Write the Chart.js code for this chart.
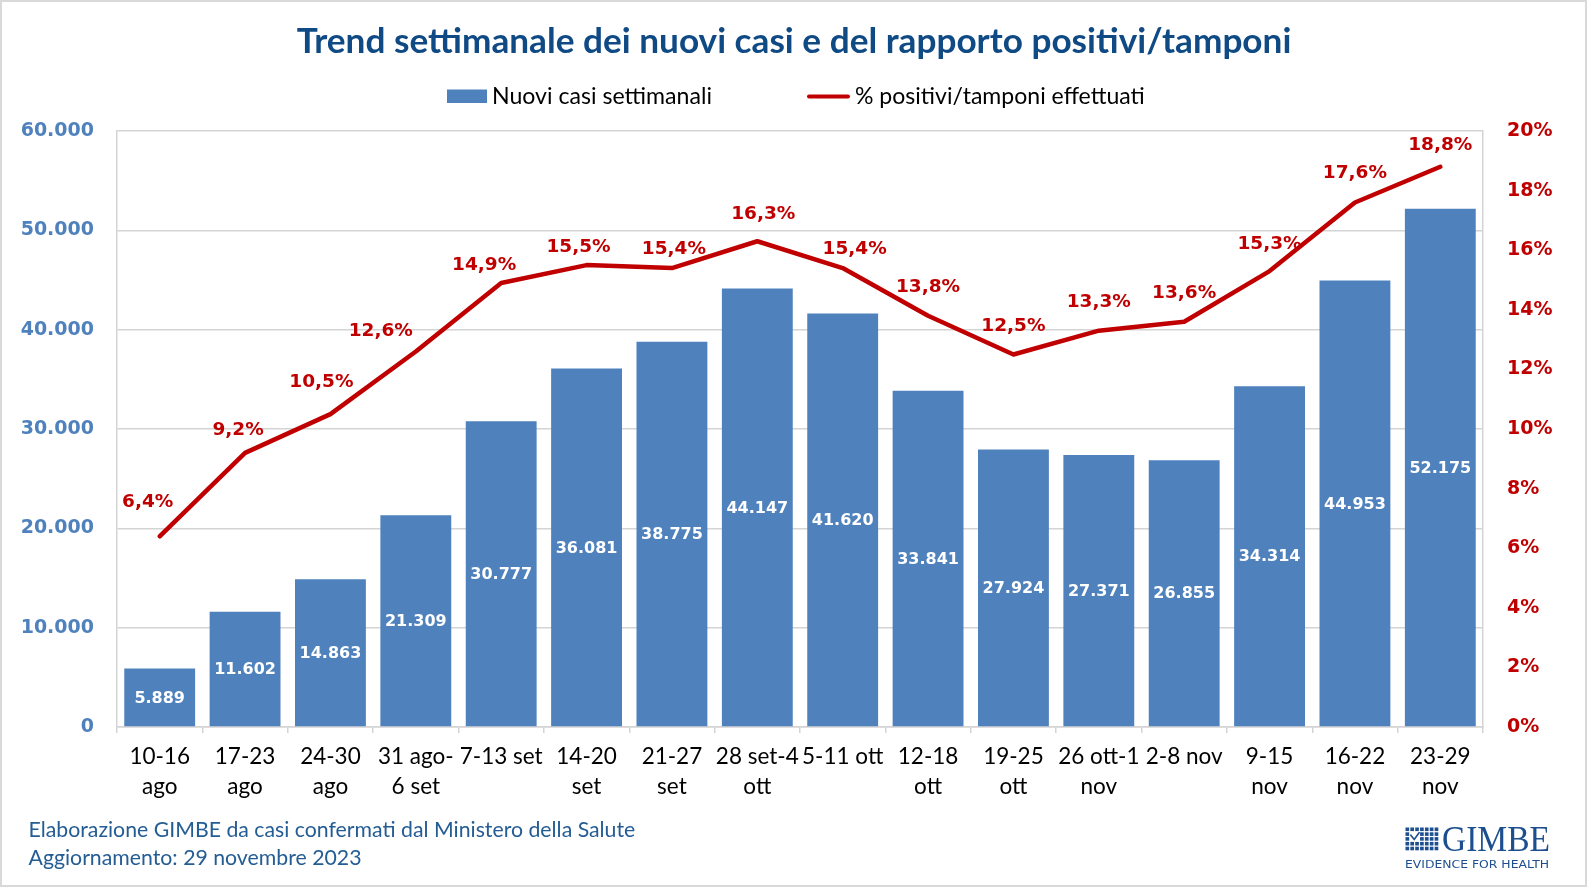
<!DOCTYPE html>
<html><head><meta charset="utf-8">
<script src="https://cdn.jsdelivr.net/npm/chart.js@4.4.0/dist/chart.umd.min.js"></script>
<style>html,body{margin:0;padding:0;background:#fff;} #wrap{width:1588px;height:888px;position:relative;} canvas{display:block;}</style>
</head><body><div id="wrap"><canvas id="c" width="1588" height="888"></canvas></div>
<script>
// ---------------- DATA ----------------
const categories = [["10-16","ago"],["17-23","ago"],["24-30","ago"],["31 ago-","6 set"],"7-13 set",["14-20","set"],["21-27","set"],["28 set-4","ott"],"5-11 ott",["12-18","ott"],["19-25","ott"],["26 ott-1","nov"],"2-8 nov",["9-15","nov"],["16-22","nov"],["23-29","nov"]];
const newCases = [5889,11602,14863,21309,30777,36081,38775,44147,41620,33841,27924,27371,26855,34314,44953,52175];
const positivityPct = [6.4,9.2,10.5,12.6,14.9,15.5,15.4,16.3,15.4,13.8,12.5,13.3,13.6,15.3,17.6,18.8];
const leftAxisRange = [0, 60000, 10000];
const rightAxisRange = [0, 20, 2];
const seriesNames = ["Nuovi casi settimanali", "% positivi/tamponi effettuati"];
const titleText = "Trend settimanale dei nuovi casi e del rapporto positivi/tamponi";
const footerLines = ["Elaborazione GIMBE da casi confermati dal Ministero della Salute", "Aggiornamento: 29 novembre 2023"];
const logoText = ["GIMBE", "EVIDENCE FOR HEALTH"];

// ---------------- STYLE ----------------
const BLUE = '#4F81BD', RED = '#C00000', GRID = '#D4D4D4';
const CAL = "Lato, 'Open Sans', sans-serif";
const VER = "'DejaVu Sans', Verdana, sans-serif";
// per-label nudges of the percentage labels (dx, dy relative to point)
const LABEL_NUDGE = [[-12,-34],[-7,-23],[-9,-32],[-35,-20],[-17,-18],[-8,-18],[2,-19],[6,-27],[12,-19],[0,-29],[0,-28],[0,-28],[0,-29],[0,-27],[0,-29],[0,-22]];

const mctx = document.createElement('canvas').getContext('2d');
function fitSize(text, weight, family, target) {
  mctx.font = `${weight} 100px ${family}`;
  return 100 * target / mctx.measureText(text).width;
}
const fmtThousands = n => String(Math.round(n)).replace(/\B(?=(\d{3})+(?!\d))/g, '.');
const fmtPct = v => v.toFixed(1).replace('.', ',') + '%';

const xFontSize = fitSize("7-13 set", 'normal', CAL, 83);
const titleSize = fitSize(titleText, 'bold', CAL, 995);
const leg1Size = fitSize(seriesNames[0], 'normal', CAL, 220);
const leg2Size = fitSize(seriesNames[1], 'normal', CAL, 290);
const footSize = fitSize(footerLines[0], 'normal', CAL, 607);

const decor = {
  id: 'decor',
  afterDatasetsDraw(chart) {
    const ctx = chart.ctx;
    ctx.save();
    // bar labels
    const bm = chart.getDatasetMeta(0);
    ctx.font = `bold 16px ${VER}`;
    ctx.fillStyle = '#FFFFFF';
    ctx.textAlign = 'center';
    ctx.textBaseline = 'middle';
    bm.data.forEach((el, i) => {
      const p = el.getProps(['x', 'y', 'base'], true);
      ctx.fillText(fmtThousands(newCases[i]), p.x, (p.y + p.base) / 2 + 1);
    });
    // line labels
    const lm = chart.getDatasetMeta(1);
    ctx.font = `bold 18.5px ${VER}`;
    ctx.fillStyle = RED;
    lm.data.forEach((el, i) => {
      const p = el.getProps(['x', 'y'], true);
      const n = LABEL_NUDGE[i] || [0, -28];
      ctx.fillText(fmtPct(positivityPct[i]), p.x + n[0], p.y + n[1]);
    });
    ctx.restore();
  },
  afterDraw(chart) {
    const ctx = chart.ctx;
    ctx.save();
    // title
    ctx.fillStyle = '#0F4A84';
    ctx.font = `bold ${titleSize}px ${CAL}`;
    ctx.textAlign = 'center';
    ctx.textBaseline = 'alphabetic';
    ctx.fillText(titleText, 794, 52.5);
    // legend
    ctx.fillStyle = BLUE;
    ctx.fillRect(447, 89.5, 40, 13.5);
    ctx.fillStyle = '#000';
    ctx.textAlign = 'left';
    ctx.textBaseline = 'middle';
    ctx.font = `normal ${leg1Size}px ${CAL}`;
    ctx.fillText(seriesNames[0], 492, 97);
    ctx.strokeStyle = RED;
    ctx.lineWidth = 4;
    ctx.lineCap = 'round';
    ctx.beginPath(); ctx.moveTo(809, 96.5); ctx.lineTo(848, 96.5); ctx.stroke();
    ctx.font = `normal ${leg2Size}px ${CAL}`;
    ctx.fillText(seriesNames[1], 855, 97);
    // footer
    ctx.fillStyle = '#245C94';
    ctx.font = `normal ${footSize}px ${CAL}`;
    ctx.fillText(footerLines[0], 28.5, 830);
    ctx.fillText(footerLines[1], 28.5, 858.5);
    // logo icon
    const LC = '#1D4E8F';
    ctx.fillStyle = LC;
    const gx = 1405, gy = 827, cols = 7, rows = 5, cw = 34 / cols, rh = 24 / rows;
    for (let r = 0; r < rows; r++) for (let c = 0; c < cols; c++) {
      if ((r === 1 || r === 2) && (c === 1 || c === 2)) continue;
      ctx.fillRect(gx + c * cw + 0.5, gy + r * rh + 0.5, cw - 1.2, rh - 1.2);
    }
    ctx.strokeStyle = LC; ctx.lineWidth = 1.6; ctx.lineCap = 'round';
    ctx.beginPath(); ctx.moveTo(gx + cw * 1.2, gy + rh * 1.7); ctx.lineTo(gx + cw * 1.9, gy + rh * 2.6); ctx.lineTo(gx + cw * 2.9, gy + rh * 1.2); ctx.stroke();
    // logo text
    ctx.textBaseline = 'alphabetic';
    ctx.font = `normal 35px 'Liberation Serif', serif`;
    let w = ctx.measureText(logoText[0]).width;
    ctx.save(); ctx.translate(1442, 851); ctx.scale(108 / w, 1); ctx.fillText(logoText[0], 0, 0); ctx.restore();
    ctx.font = `normal 10.5px ${VER}`;
    w = ctx.measureText(logoText[1]).width;
    ctx.save(); ctx.translate(1405, 868); ctx.scale(144 / w, 1); ctx.fillText(logoText[1], 0, 0); ctx.restore();
    // frame
    ctx.strokeStyle = '#D9D9D9';
    ctx.lineWidth = 2;
    ctx.strokeRect(1, 1, 1585, 885);
    ctx.restore();
  }
};

new Chart(document.getElementById('c'), {
  type: 'bar',
  data: {
    labels: categories,
    datasets: [
      { type: 'bar', label: seriesNames[0], data: newCases, backgroundColor: BLUE, yAxisID: 'y', order: 2,
        categoryPercentage: 0.83, barPercentage: 1.0 },
      { type: 'line', label: seriesNames[1], data: positivityPct, borderColor: RED, backgroundColor: RED, borderWidth: 4.5,
        yAxisID: 'y1', order: 1, pointRadius: 0, tension: 0, borderCapStyle: 'round', borderJoinStyle: 'round' }
    ]
  },
  options: {
    responsive: false,
    animation: false,
    layout: { padding: { top: 131, left: 0, right: 0, bottom: 0 } },
    plugins: { legend: { display: false }, title: { display: false }, tooltip: { enabled: false } },
    scales: {
      x: {
        offset: true,
        grid: { offset: true, drawOnChartArea: false, drawTicks: true, tickLength: 6, color: GRID, lineWidth: 1.5 },
        border: { color: GRID, width: 1.5 },
        ticks: { color: '#000', font: { family: CAL, size: xFontSize, lineHeight: 1.32 }, padding: 9, maxRotation: 0, autoSkip: false },
        afterFit: s => { s.height = 161; }
      },
      y: {
        position: 'left', min: leftAxisRange[0], max: leftAxisRange[1],
        ticks: { stepSize: leftAxisRange[2], color: BLUE, font: { family: VER, size: 19, weight: 'bold' }, padding: 23,
          callback: v => fmtThousands(v) },
        grid: { color: GRID, lineWidth: 1.5, drawTicks: false },
        border: { color: GRID, width: 1.5 },
        afterFit: s => { s.width = 117; }
      },
      y1: {
        position: 'right', min: rightAxisRange[0], max: rightAxisRange[1],
        ticks: { stepSize: rightAxisRange[2], color: RED, font: { family: VER, size: 19, weight: 'bold' }, padding: 24,
          callback: v => Math.round(v) + '%' },
        grid: { drawOnChartArea: false, drawTicks: false },
        border: { color: GRID, width: 1.5 },
        afterFit: s => { s.width = 105; }
      }
    }
  },
  plugins: [decor]
});
</script>
</body></html>
